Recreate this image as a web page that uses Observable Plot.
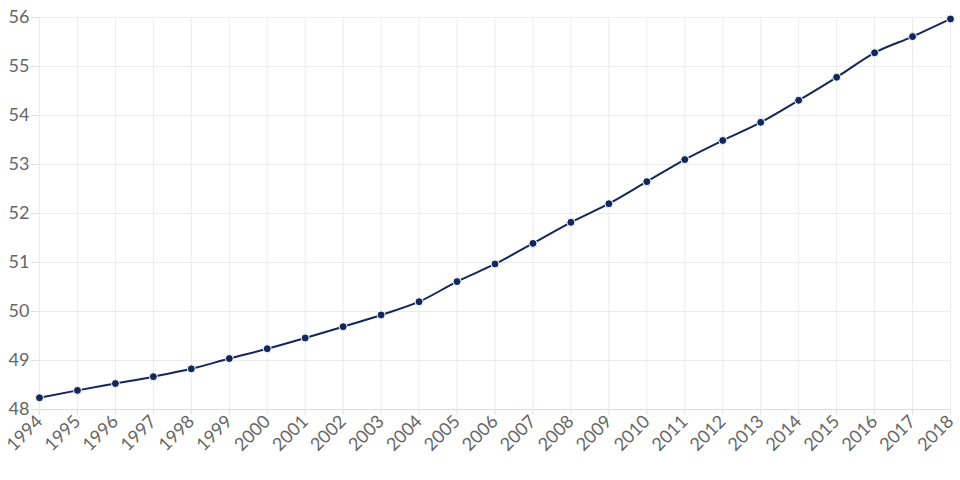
<!DOCTYPE html>
<html>
<head>
<meta charset="utf-8">
<script src="https://cdn.jsdelivr.net/npm/d3@7"></script>
<script src="https://cdn.jsdelivr.net/npm/@observablehq/plot@0.6"></script>
<style>
  html, body { margin: 0; padding: 0; background: #fff; }
  #chart { width: 960px; height: 480px; }
</style>
</head>
<body>
<div id="chart"></div>
<script>
const years = [1994,1995,1996,1997,1998,1999,2000,2001,2002,2003,2004,2005,2006,2007,2008,2009,2010,2011,2012,2013,2014,2015,2016,2017,2018];
const values = [48.24,48.39,48.53,48.67,48.83,49.04,49.24,49.46,49.69,49.93,50.20,50.61,50.97,51.39,51.82,52.20,52.65,53.10,53.49,53.86,54.31,54.78,55.28,55.61,55.97];
const yTicks = [48,49,50,51,52,53,54,55,56];

const data = years.map((y, i) => ({year: y, value: values[i]}));

const chart = Plot.plot({
  width: 960,
  height: 480,
  marginLeft: 39,
  marginRight: 10,
  marginTop: 17,
  marginBottom: 71,
  style: {fontFamily: "Lato, sans-serif", fontSize: "18px", color: "#666", background: "#fff"},
  x: {domain: [1994, 2018], ticks: years, tickFormat: d => String(d), label: null},
  y: {domain: [48, 56], ticks: yTicks, label: null},
  marks: [
    Plot.gridX(years, {stroke: "#ececec", strokeOpacity: 1}),
    Plot.gridY(yTicks, {stroke: "#ececec", strokeOpacity: 1}),
    Plot.ruleY([48], {stroke: "#dcdcdc"}),
    Plot.axisY({ticks: yTicks, tickSize: 8, tickPadding: 2, stroke: "#e0e0e0", fill: "#666", fontSize: 18}),
    Plot.axisX({ticks: years, tickFormat: d => String(d), tickSize: 6, tickPadding: 3, tickRotate: -45, stroke: "#e0e0e0", fill: "#666", fontSize: 18}),
    Plot.line(data, {x: "year", y: "value", stroke: "#12285a", strokeWidth: 2, curve: "monotone-x"}),
    Plot.dot(data, {x: "year", y: "value", r: 4, fill: "#12285a", stroke: "#fff", strokeWidth: 1})
  ]
});
document.getElementById("chart").appendChild(chart);
</script>
</body>
</html>
